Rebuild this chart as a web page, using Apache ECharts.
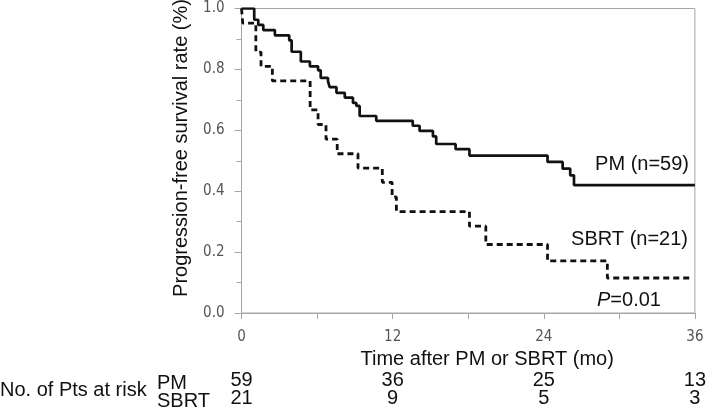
<!DOCTYPE html>
<html>
<head>
<meta charset="utf-8">
<script src="https://cdn.jsdelivr.net/npm/echarts@6/dist/echarts.min.js"></script>
<style>html,body{margin:0;padding:0;background:#fff}#c{width:709px;height:408px}</style>
</head>
<body>
<div id="c"></div>
<script>
// Kaplan-Meier step points (time in months, survival after the step)
var pmTime = [0, 1.01, 1.33, 1.73, 2.65, 3.79, 3.98, 4.71, 5.43, 6.08, 6.29, 6.87, 7.0, 7.54, 8.2, 8.85, 9.12, 9.38, 10.7, 13.6, 14.14, 15.2, 15.46, 17.0, 18.1, 24.3, 25.5, 26.1, 26.4, 36];
var pmSurv = [1.0, 0.963, 0.946, 0.929, 0.912, 0.895, 0.858, 0.826, 0.81, 0.797, 0.772, 0.761, 0.742, 0.723, 0.707, 0.69, 0.68, 0.647, 0.631, 0.615, 0.598, 0.58, 0.555, 0.538, 0.517, 0.496, 0.474, 0.452, 0.42, 0.42];
var sbrtTime = [0, 0.1, 1.14, 1.55, 2.45, 5.45, 6.08, 6.71, 7.6, 9.25, 11.18, 11.96, 12.3, 18.1, 19.4, 24.3, 29.05, 35.8];
var sbrtSurv = [1.0, 0.952, 0.857, 0.81, 0.762, 0.667, 0.619, 0.571, 0.523, 0.476, 0.429, 0.381, 0.333, 0.285, 0.225, 0.171, 0.115, 0.115];
var riskTimes = [0, 12, 24, 36];
var pmRisk = [59, 36, 25, 13];
var sbrtRisk = [21, 9, 5, 3];

function pairs(t, s) { return t.map(function (v, i) { return [v, s[i]]; }); }
function riskLookup(arr) {
  return function (v) { var i = riskTimes.indexOf(v); return i >= 0 ? String(arr[i]) : ''; };
}

var axisGray = '#a6a6a6';
var tickFont = { fontFamily: 'DejaVu Sans Condensed, DejaVu Sans', fontSize: 15, color: '#555' };
var txtFont = 'Liberation Sans, Arial, sans-serif';

var chart = echarts.init(document.getElementById('c'), null, { renderer: 'canvas' });
var riskAxis = function (arr, off) {
  return {
    type: 'value', min: 0, max: 36, interval: 12, position: 'bottom', offset: off,
    axisLine: { show: false }, axisTick: { show: false }, splitLine: { show: false },
    axisLabel: { margin: 0, formatter: riskLookup(arr), fontFamily: txtFont, fontSize: 20, color: '#111' }
  };
};
chart.setOption({
  animation: false,
  grid: { left: 241.5, right: 12.5, top: 8.5, bottom: 91.5, show: true, borderColor: axisGray, borderWidth: 1 },
  xAxis: [
    {
      type: 'value', min: 0, max: 36, interval: 12,
      name: 'Time after PM or SBRT (mo)', nameLocation: 'middle', nameGap: 35,
      nameTextStyle: { fontFamily: txtFont, fontSize: 20, color: '#111', padding: [0, 0, 0, 38] },
      axisLine: { lineStyle: { color: axisGray } },
      axisTick: { length: 6, lineStyle: { color: axisGray } },
      minorTick: { show: true, splitNumber: 2, length: 6, lineStyle: { color: axisGray } },
      splitLine: { show: false },
      axisLabel: Object.assign({ margin: 17 }, tickFont)
    },
    riskAxis(pmRisk, 57),
    riskAxis(sbrtRisk, 75)
  ],
  yAxis: {
    type: 'value', min: 0, max: 1, interval: 0.2,
    axisLine: { show: true, lineStyle: { color: axisGray } },
    axisTick: { length: 7, lineStyle: { color: axisGray } },
    minorTick: { show: true, splitNumber: 2, length: 5, lineStyle: { color: axisGray } },
    splitLine: { show: false },
    axisLabel: Object.assign({ margin: 17, formatter: function (v) { return v.toFixed(1); } }, tickFont)
  },
  series: [
    {
      type: 'line', step: 'end', symbol: 'none', data: pairs(pmTime, pmSurv),
      lineStyle: { color: '#111', width: 2.7 }
    },
    {
      type: 'line', step: 'end', symbol: 'none', data: pairs(sbrtTime, sbrtSurv),
      lineStyle: { color: '#111', width: 2.8, type: [6, 4] }
    }
  ],
  graphic: [
    { type: 'text', x: 181, y: 148, rotation: Math.PI / 2,
      style: { text: 'Progression-free survival rate (%)', font: '20px ' + txtFont, fill: '#111', align: 'center', verticalAlign: 'middle' } },
    { type: 'text', right: 20, top: 154, style: { text: 'PM (n=59)', font: '20px ' + txtFont, fill: '#111' } },
    { type: 'text', right: 21, top: 229, style: { text: 'SBRT (n=21)', font: '20px ' + txtFont, fill: '#111' } },
    { type: 'text', left: 597, top: 290, style: { text: '{i|P}=0.01', font: '20px ' + txtFont, fill: '#111',
        rich: { i: { fontStyle: 'italic', fontFamily: txtFont, fontSize: 20, fill: '#111' } } } },
    { type: 'text', left: 0, top: 380, style: { text: 'No. of Pts at risk', font: '20px ' + txtFont, fill: '#111' } },
    { type: 'text', left: 157, top: 373, style: { text: 'PM', font: '20px ' + txtFont, fill: '#111' } },
    { type: 'text', left: 157, top: 391, style: { text: 'SBRT', font: '20px ' + txtFont, fill: '#111' } }
  ]
});
</script>
</body>
</html>
